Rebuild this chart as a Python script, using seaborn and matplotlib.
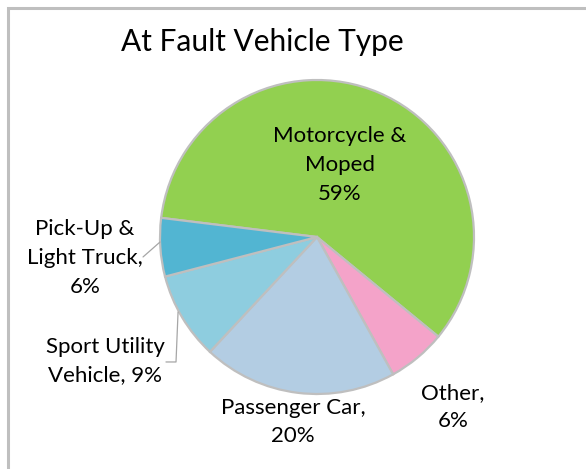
import matplotlib
matplotlib.use("Agg")
import matplotlib.pyplot as plt
from matplotlib.patches import Rectangle
import seaborn as sns

# data
categories = ["Motorcycle & Moped", "Other", "Passenger Car", "Sport Utility Vehicle", "Pick-Up & Light Truck"]
shares = [59, 6, 20, 9, 6]
label_texts = ["Motorcycle &\nMoped\n59%", "Other,\n6%", "Passenger Car,\n20%",
               "Sport Utility\nVehicle, 9%", "Pick-Up &\nLight Truck,\n6%"]
colors = ["#92D050", "#F4A3C9", "#B3CDE3", "#8ECDDF", "#52B5D2"]

sns.set_theme(style="white")
plt.rcParams['font.family'] = ['Lato', 'DejaVu Sans']

fig = plt.figure(figsize=(5.86, 4.69), dpi=100)
ax = fig.add_axes([0, 0, 1, 1])

wedges, _ = ax.pie(shares, colors=colors, startangle=173, counterclock=False,
                   wedgeprops=dict(edgecolor="#BFBFBF", linewidth=1.6))

# pie centre at (317, 237) px, radius 157 px
ax.set_xlim(-317 / 157, (586 - 317) / 157)
ax.set_ylim(-(469 - 237) / 157, 237 / 157)
ax.set_aspect("equal")
ax.axis("off")

label_pos = [(0.146, 0.459), (0.866, -1.083), (-0.153, -1.178), (-1.350, -0.790), (-1.478, -0.134)]
for txt, (x, y) in zip(label_texts, label_pos):
    ax.text(x, y, txt, ha="center", va="center", fontsize=16, color="black",
            multialignment="center", linespacing=1.55)

# leader lines
ax.plot([-1.108, -1.0], [-0.127, -0.032], color="#A6A6A6", lw=0.9)
ax.plot([-0.962, -0.898, -0.885], [-0.796, -0.796, -0.478], color="#A6A6A6", lw=0.9)

fig.text(262 / 586, 1 - 42 / 469, "At Fault Vehicle Type", ha="center", va="center",
         fontsize=21.5, color="black")

# chart-area frame (only top and left edges visible)
fig.patches.append(Rectangle((7.5 / 586, -0.1), 1.1, 1.082, transform=fig.transFigure,
                             fill=False, edgecolor="#BFBFBF", linewidth=2.2, clip_on=False))

fig.savefig("out.png", dpi=100, facecolor="white")
